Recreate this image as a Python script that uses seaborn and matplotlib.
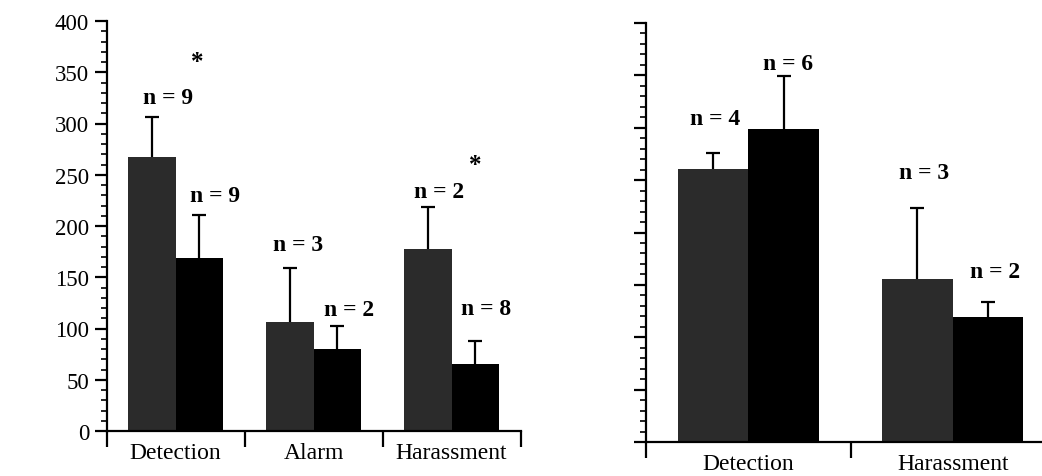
import matplotlib
matplotlib.use("Agg")
import matplotlib.pyplot as plt
from matplotlib.ticker import FixedLocator, MultipleLocator, NullFormatter
import seaborn as sns
import pandas as pd

sns.set_theme(style="white")
plt.rcParams["font.family"] = ["Liberation Serif", "DejaVu Serif"]

# ---- data -------------------------------------------------------------
groups = ["group 1", "group 2"]

left_categories = ["Detection", "Alarm", "Harassment"]
left_means = {"group 1": [267, 106, 178], "group 2": [169, 80, 65]}
left_upper = {"group 1": [306, 159, 219], "group 2": [211, 102, 88]}
left_n = {"group 1": [9, 3, 2], "group 2": [9, 2, 8]}
left_significant = [True, False, True]

right_categories = ["Detection", "Harassment"]
right_means = {"group 1": [261, 156], "group 2": [299, 119]}
right_upper = {"group 1": [276, 223], "group 2": [349, 134]}
right_n = {"group 1": [4, 3], "group 2": [6, 2]}

y_ticks = [0, 50, 100, 150, 200, 250, 300, 350, 400]

# ---- label placement (offset points from the error-bar tip) -----------
left_label_dx = {"group 1": [11.5, 6, 8], "group 2": [11, 8.5, 8]}
left_label_dy = {"group 1": [14.5, 17, 11], "group 2": [13.5, 12, 23]}
right_label_dx = {"group 1": [1.5, 4.5], "group 2": [3, 5]}
right_label_dy = {"group 1": [25, 26], "group 2": [9.5, 22]}
star_dx = [33, 0, 34]
star_dy = [40, 0, 30]

palette = {"group 1": "#2b2b2b", "group 2": "#000000"}
LW = 1.6


def frame(categories, means):
    rows = []
    for g in groups:
        for c, v in zip(categories, means[g]):
            rows.append({"category": c, "group": g, "value": v})
    return pd.DataFrame(rows)


def draw_panel(ax, categories, means, upper, ns, dxs, dys, xmax, show_labels):
    df = frame(categories, means)
    sns.barplot(data=df, x="category", y="value", hue="group",
                order=categories, hue_order=groups, palette=palette,
                width=0.69, gap=0, errorbar=None, legend=False,
                linewidth=0, saturation=1, ax=ax)
    for gi, g in enumerate(groups):
        cont = ax.containers[gi]
        for bi, bar in enumerate(cont):
            xc = bar.get_x() + bar.get_width() / 2
            h = bar.get_height()
            top = upper[g][bi]
            # upward-only error bar with a single cap at its tip
            ax.vlines(xc, h, top, colors="black", linewidth=LW, zorder=5)
            ax.plot([xc], [top], marker="_", markersize=10,
                    markeredgewidth=LW, color="black", zorder=5)
            ax.annotate(f"n = {ns[g][bi]}", xy=(xc, top),
                        xytext=(dxs[g][bi], dys[g][bi]),
                        textcoords="offset points", ha="center",
                        va="center", fontsize=17, fontweight="bold",
                        color="black")
    ax.set_ylim(0, 400)
    ax.set_xlim(-0.5, xmax)
    ax.set_xlabel("")
    ax.set_ylabel("")
    for s in ["top", "right"]:
        ax.spines[s].set_visible(False)
    for s in ["left", "bottom"]:
        ax.spines[s].set_color("black")
        ax.spines[s].set_linewidth(LW)

    # y axis: major ticks every 50, minor every 10
    ax.yaxis.set_major_locator(FixedLocator(y_ticks))
    ax.yaxis.set_minor_locator(MultipleLocator(10))
    ax.tick_params(axis="y", which="major", direction="out", length=8.5,
                   width=LW, color="black", left=True, pad=4,
                   labelsize=16.5, labelcolor="black")
    ax.tick_params(axis="y", which="minor", direction="out", length=4,
                   width=1.2, color="black", left=True)
    if not show_labels:
        ax.yaxis.set_major_formatter(NullFormatter())

    # x axis: ticks at category boundaries, names centred between them
    k = len(categories)
    bounds = [i - 0.5 for i in range(k + 1) if i - 0.5 <= xmax]
    ax.xaxis.set_major_locator(FixedLocator(bounds))
    ax.xaxis.set_major_formatter(NullFormatter())
    ax.xaxis.set_minor_locator(FixedLocator(list(range(k))))
    ax.set_xticks(list(range(k)), categories, minor=True)
    ax.tick_params(axis="x", which="major", direction="out", length=11.5,
                   width=LW, color="black", bottom=True)
    ax.tick_params(axis="x", which="minor", length=0, pad=8,
                   labelsize=17, labelcolor="black", bottom=True)
    ax.grid(False)


fig = plt.figure(figsize=(10.42, 4.77), dpi=100)
fig.patch.set_facecolor("white")

W, H = 1042, 477
ax1 = fig.add_axes([106.5 / W, 45 / H, 414 / W, 410 / H])
ax2 = fig.add_axes([646 / W, 34 / H, 396 / W, 419 / H])

draw_panel(ax1, left_categories, left_means, left_upper, left_n,
           left_label_dx, left_label_dy, 2.5, True)
draw_panel(ax2, right_categories, right_means, right_upper, right_n,
           right_label_dx, right_label_dy, -0.5 + 396 / 204.5, False)

# significance marks over the left panel
for bi, sig in enumerate(left_significant):
    if not sig:
        continue
    bar = ax1.containers[0][bi]
    xc = bar.get_x() + bar.get_width() / 2
    ax1.annotate("*", xy=(xc, left_upper["group 1"][bi]),
                 xytext=(star_dx[bi], star_dy[bi]), textcoords="offset points",
                 ha="center", va="center", fontsize=18, fontweight="bold",
                 color="black")

for ax in (ax1, ax2):
    ax.patch.set_alpha(0)
    for sp in ax.spines.values():
        sp.set_clip_on(False)

fig.savefig("out.png", dpi=100, facecolor="white")
